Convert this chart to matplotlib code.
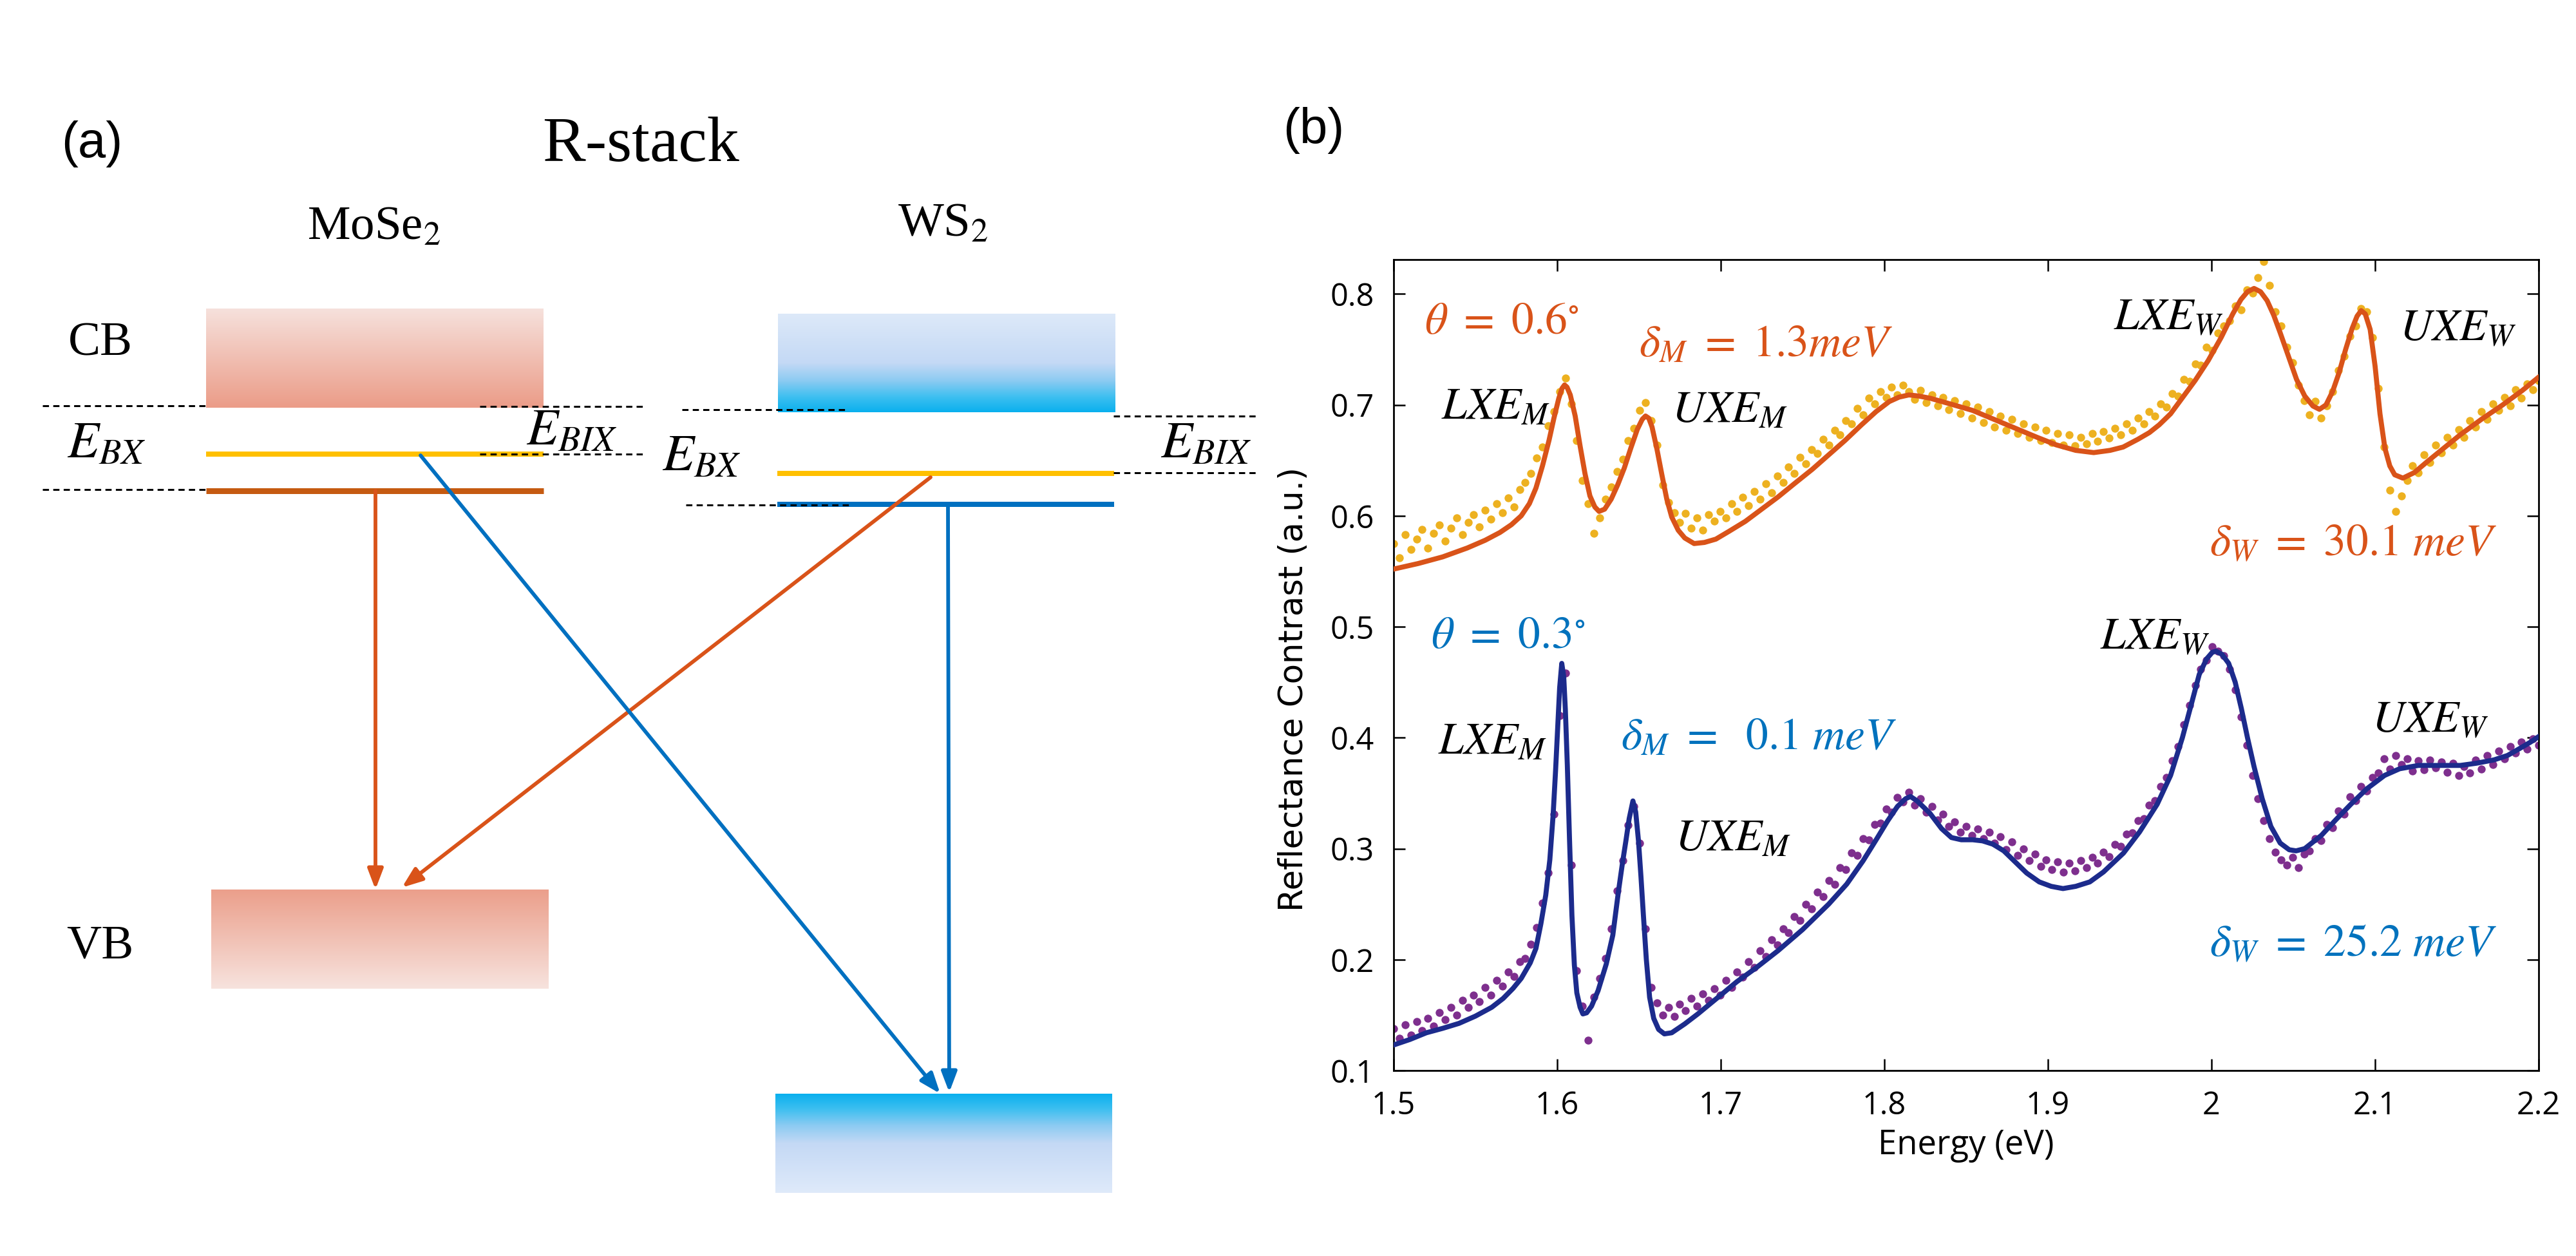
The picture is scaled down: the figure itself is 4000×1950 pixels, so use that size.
import numpy as np
import matplotlib
matplotlib.use('Agg')
import matplotlib.pyplot as plt
from matplotlib.patches import FancyArrowPatch
from matplotlib.colors import to_rgb

plt.rcParams['mathtext.fontset'] = 'stix'
plt.rcParams['font.family'] = ['Open Sans', 'DejaVu Sans']

# ---------------- panel (b) data ----------------
energy_grid = np.linspace(1.5, 2.2, 201)

top_data = [
    .575, .562, .583, .570, .579, .588, .571, .584, .592, .577,
    .589, .598, .583, .594, .601, .590, .605, .597, .611, .603,
    .616, .608, .624, .630, .638, .652, .662, .681, .694, .712,
    .724, .701, .668, .632, .611, .584, .598, .615, .626, .640,
    .651, .668, .679, .695, .702, .686, .664, .628, .612, .603,
    .594, .602, .589, .598, .587, .601, .595, .604, .598, .611,
    .604, .617, .609, .622, .615, .629, .621, .636, .630, .644,
    .638, .653, .647, .660, .656, .669, .664, .677, .673, .686,
    .683, .697, .691, .706, .701, .712, .707, .716, .709, .718,
    .712, .705, .713, .702, .709, .699, .707, .696, .704, .692,
    .701, .688, .698, .684, .694, .680, .690, .677, .687, .674,
    .683, .671, .680, .668, .677, .666, .674, .664, .673, .663,
    .671, .665, .674, .667, .676, .670, .679, .673, .683, .677,
    .688, .683, .694, .690, .701, .698, .710, .708, .723, .721,
    .737, .736, .752, .749, .765, .771, .776, .789, .786, .804,
    .801, .815, .829, .808, .784, .771, .752, .738, .718, .704,
    .691, .703, .688, .699, .712, .731, .744, .762, .771, .787,
    .784, .761, .715, .662, .623, .604, .618, .632, .645, .639,
    .655, .648, .664, .657, .671, .664, .678, .671, .686, .680,
    .694, .687, .701, .695, .707, .699, .714, .706, .719, .714,
    .722]

bot_data = [
    .138, .129, .141, .132, .144, .136, .147, .140, .152, .146,
    .157, .150, .163, .157, .168, .162, .175, .168, .181, .176,
    .189, .185, .198, .201, .214, .229, .251, .278, .331, .420,
    .458, .285, .190, .158, .127, .166, .183, .201, .228, .262,
    .289, .321, .338, .305, .228, .175, .161, .150, .157, .149,
    .160, .154, .165, .158, .169, .163, .174, .168, .181, .175,
    .189, .184, .198, .193, .208, .203, .218, .213, .228, .224,
    .239, .235, .250, .246, .261, .257, .271, .268, .283, .281,
    .296, .294, .309, .308, .322, .323, .336, .333, .346, .342,
    .351, .339, .345, .333, .338, .326, .331, .320, .324, .315,
    .320, .312, .318, .309, .315, .305, .311, .299, .306, .294,
    .300, .289, .295, .284, .290, .281, .288, .279, .287, .280,
    .289, .283, .292, .287, .297, .293, .304, .302, .313, .314,
    .325, .327, .339, .343, .356, .364, .379, .392, .412, .429,
    .447, .462, .470, .482, .478, .474, .462, .443, .419, .393,
    .366, .345, .325, .309, .297, .290, .285, .292, .283, .295,
    .298, .309, .307, .322, .319, .334, .331, .347, .343, .356,
    .352, .364, .368, .381, .372, .384, .376, .381, .370, .379,
    .371, .380, .373, .378, .369, .377, .366, .374, .368, .380,
    .372, .384, .376, .388, .381, .392, .386, .396, .390, .399,
    .393]

top_fit = [
    (1.500, .552), (1.515, .557), (1.530, .563), (1.545, .571), (1.556, .578),
    (1.565, .585), (1.572, .592), (1.578, .600), (1.583, .611), (1.587, .625),
    (1.591, .645), (1.595, .668), (1.598, .688), (1.601, .706), (1.603, .715),
    (1.6045, .718), (1.606, .716), (1.608, .709), (1.611, .690), (1.614, .663),
    (1.617, .638), (1.620, .618), (1.623, .608), (1.6256, .604), (1.629, .606),
    (1.633, .615), (1.637, .628), (1.641, .643), (1.645, .661), (1.649, .678),
    (1.652, .687), (1.654, .690), (1.656, .688), (1.658, .680), (1.661, .660),
    (1.664, .637), (1.667, .615), (1.670, .599), (1.674, .587), (1.678, .580),
    (1.6837, .575), (1.690, .576), (1.697, .579), (1.705, .586), (1.715, .595),
    (1.725, .606), (1.735, .617), (1.745, .629), (1.756, .642), (1.766, .655),
    (1.776, .668), (1.786, .682), (1.795, .694), (1.803, .703), (1.809, .707),
    (1.815, .709), (1.821, .708), (1.828, .706), (1.840, .701), (1.854, .695),
    (1.867, .687), (1.880, .679), (1.893, .671), (1.905, .664), (1.917, .659),
    (1.928, .657), (1.938, .659), (1.946, .662), (1.955, .669), (1.962, .675),
    (1.968, .682), (1.975, .692), (1.982, .706), (1.990, .722), (1.998, .740),
    (2.006, .761), (2.013, .782), (2.018, .795), (2.022, .802), (2.026, .805),
    (2.030, .802), (2.034, .794), (2.038, .781), (2.042, .765), (2.047, .744),
    (2.052, .723), (2.057, .708), (2.062, .699), (2.066, .696), (2.070, .700),
    (2.074, .712), (2.078, .729), (2.082, .750), (2.086, .769), (2.089, .780),
    (2.0915, .785), (2.094, .782), (2.097, .768), (2.100, .735), (2.103, .692),
    (2.106, .661), (2.109, .645), (2.112, .637), (2.117, .634), (2.124, .639),
    (2.132, .649), (2.142, .661), (2.152, .673), (2.165, .687), (2.178, .700),
    (2.190, .713), (2.200, .725)]

bot_fit = [
    (1.500, .123), (1.510, .128), (1.520, .134), (1.530, .138), (1.540, .1425),
    (1.550, .149), (1.560, .157), (1.567, .165), (1.573, .174), (1.578, .183),
    (1.5835, .197), (1.587, .210), (1.590, .232), (1.593, .258), (1.5955, .290),
    (1.5975, .330), (1.599, .370), (1.6005, .415), (1.6015, .445), (1.6028, .467),
    (1.604, .455), (1.605, .425), (1.6062, .375), (1.6075, .310), (1.609, .240),
    (1.6105, .195), (1.612, .170), (1.614, .157), (1.6157, .151), (1.618, .152),
    (1.621, .158), (1.625, .172), (1.630, .196), (1.634, .222), (1.6375, .262),
    (1.640, .288), (1.642, .307), (1.644, .327), (1.6463, .343), (1.648, .333),
    (1.6497, .307), (1.6512, .275), (1.6527, .240), (1.6545, .200), (1.6565, .166),
    (1.659, .147), (1.662, .137), (1.6655, .133), (1.670, .134), (1.678, .142),
    (1.686, .151), (1.6934, .160), (1.700, .168), (1.7098, .180), (1.722, .193),
    (1.735, .208), (1.750, .227), (1.766, .250), (1.777, .268), (1.787, .289),
    (1.795, .308), (1.802, .325), (1.808, .338), (1.813, .345), (1.816, .347),
    (1.820, .343), (1.8278, .332), (1.835, .318), (1.841, .310), (1.847, .308),
    (1.854, .308), (1.860, .307), (1.8664, .304), (1.873, .298), (1.8793, .289),
    (1.887, .278), (1.8947, .270), (1.902, .266), (1.9092, .264), (1.917, .266),
    (1.9256, .270), (1.934, .279), (1.9462, .296), (1.956, .315), (1.9668, .340),
    (1.975, .366), (1.9822, .400), (1.988, .432), (1.9925, .457), (1.997, .471),
    (2.0005, .477), (2.0028, .478), (2.0065, .475), (2.0105, .467), (2.0145, .450),
    (2.0183, .426), (2.022, .400), (2.026, .374), (2.031, .345), (2.0363, .320),
    (2.042, .305), (2.0475, .299), (2.0517, .298), (2.057, .300), (2.0672, .312),
    (2.076, .326), (2.0852, .340), (2.095, .354), (2.1058, .366), (2.115, .372),
    (2.1264, .375), (2.140, .375), (2.1521, .375), (2.162, .377), (2.1727, .380),
    (2.181, .384), (2.1881, .390), (2.195, .396), (2.200, .401)]

x_ticks = [1.5, 1.6, 1.7, 1.8, 1.9, 2.0, 2.1, 2.2]
x_ticklabels = ['1.5', '1.6', '1.7', '1.8', '1.9', '2', '2.1', '2.2']
y_ticks = [0.1, 0.2, 0.3, 0.4, 0.5, 0.6, 0.7, 0.8]
y_ticklabels = ['0.1', '0.2', '0.3', '0.4', '0.5', '0.6', '0.7', '0.8']

# annotations: (text, x, y, colour, size)
annotations_b = [
    (r'$\theta\ =\ 0.6^{\circ}$', 1.519, 0.764, '#d95319', 25),
    (r'$\delta_M\ =\ 1.3meV$', 1.650, 0.744, '#d95319', 25),
    (r'$LXE_M$', 1.529, 0.688, 'black', 25),
    (r'$UXE_M$', 1.670, 0.685, 'black', 25),
    (r'$LXE_W$', 1.940, 0.769, 'black', 25),
    (r'$UXE_W$', 2.115, 0.759, 'black', 25),
    (r'$\delta_W\ =\ 30.1\ meV$', 1.999, 0.565, '#d95319', 25),
    (r'$\theta\ =\ 0.3^{\circ}$', 1.523, 0.481, '#0072bd', 25),
    (r'$LXE_M$', 1.527, 0.386, 'black', 25),
    (r'$\delta_M\ =\ \ 0.1\ meV$', 1.639, 0.390, '#0072bd', 25),
    (r'$UXE_M$', 1.672, 0.299, 'black', 25),
    (r'$LXE_W$', 1.932, 0.481, 'black', 25),
    (r'$UXE_W$', 2.098, 0.406, 'black', 25),
    (r'$\delta_W\ =\ 25.2\ meV$', 1.999, 0.204, '#0072bd', 25),
]

# ---------------- figure ----------------
fig = plt.figure(figsize=(20, 9.75), dpi=200)
bg = fig.add_axes([0, 0, 1, 1])
bg.axis('off')


def grad_img(stops, n=256):
    pos = [p for p, _ in stops]
    cols = np.array([to_rgb(c) for _, c in stops])
    t = np.linspace(0, 1, n)
    img = np.stack([np.interp(t, pos, cols[:, k]) for k in range(3)], axis=-1)
    return img[:, None, :]


def box(x0, x1, ytop, ybot, stops):
    bg.imshow(grad_img(stops), extent=(x0, x1, ybot, ytop), aspect='auto',
              interpolation='bilinear', zorder=1)


box(320, 844, 479, 633, [(0, '#f6e1dc'), (1, '#eb9c88')])
box(328, 852, 1381, 1535, [(0, '#eb9f8b'), (1, '#f7e3de')])
box(1208, 1732, 487, 640, [(0, '#dde9f9'), (0.5, '#c4d9f5'), (0.68, '#8ccbf2'),
                            (0.85, '#3cbff0'), (1, '#0ab0ee')])
box(1204, 1727, 1698, 1852, [(0, '#0ab0ee'), (0.15, '#3cbff0'), (0.32, '#8ccbf2'),
                              (0.5, '#c4d9f5'), (1, '#dfeafa')])

# level lines
px = 72 / 200.0
bg.plot([320, 844], [705, 705], color='#ffc000', lw=8 * px, solid_capstyle='butt', zorder=2)
bg.plot([320, 844], [762, 762], color='#c55a11', lw=9 * px, solid_capstyle='butt', zorder=2)
bg.plot([1207, 1730], [735, 735], color='#ffc000', lw=8 * px, solid_capstyle='butt', zorder=2)
bg.plot([1207, 1730], [783, 783], color='#0070c0', lw=8 * px, solid_capstyle='butt', zorder=2)

# dashed guides
dashes = [((66, 320), 630), ((66, 320), 760), ((745, 999), 631), ((745, 999), 705),
          ((1059, 1315), 636), ((1065, 1318), 784), ((1729, 1952), 646), ((1729, 1952), 734)]
for (xa, xb), yy in dashes:
    bg.plot([xa, xb], [yy, yy], color='black', lw=3 * px, linestyle=(0, (3.2, 2.2)), zorder=4)

# arrows
arrows = [((583, 762), (583, 1381), '#d95319'),
          ((1445, 741), (624, 1378), '#d95319'),
          ((653, 707), (1460, 1698), '#0070c0'),
          ((1472, 783), (1474, 1696), '#0070c0')]
for p0, p1, c in arrows:
    bg.add_patch(FancyArrowPatch(p0, p1, arrowstyle='-|>,head_length=0.95,head_width=0.36',
                                 mutation_scale=10, color=c, lw=2.1, shrinkA=0, shrinkB=0,
                                 zorder=3))

bg.set_xlim(0, 4000)
bg.set_ylim(1950, 0)

serif = ['Liberation Serif', 'DejaVu Serif']
bg.text(95, 244, '(a)', fontsize=28, family=['Liberation Sans', 'DejaVu Sans'], va='baseline')
bg.text(842, 250, 'R-stack', fontsize=36, family=serif, va='baseline')
bg.text(477, 371, r'MoSe$_2$', fontsize=27, family=serif, va='baseline')
bg.text(1394, 366, r'WS$_2$', fontsize=27, family=serif, va='baseline')
bg.text(106, 552, 'CB', fontsize=27, family=serif, va='baseline')
bg.text(103, 1487, 'VB', fontsize=27, family=serif, va='baseline')
bg.text(104, 710, r'$E_{BX}$', fontsize=29, va='baseline')
bg.text(817, 690, r'$E_{BIX}$', fontsize=29, va='baseline')
bg.text(1028, 730, r'$E_{BX}$', fontsize=29, va='baseline')
bg.text(1802, 710, r'$E_{BIX}$', fontsize=29, va='baseline')

bg.text(1992, 223, '(b)', fontsize=28, family=['Liberation Sans', 'DejaVu Sans'], va='baseline')

# ---------------- panel (b) axes ----------------
ax = fig.add_axes([2164 / 4000, (1950 - 1662) / 1950, (3942 - 2164) / 4000, (1662 - 403) / 1950])
ax.scatter(energy_grid, top_data, s=20, color='#edb120', linewidths=0, zorder=2)
ax.scatter(energy_grid, bot_data, s=20, color='#7e2f8e', linewidths=0, zorder=2)
tE, tR = zip(*top_fit)
bE, bR = zip(*bot_fit)
ax.plot(tE, tR, color='#d95319', lw=2.8, zorder=3, solid_joinstyle='round')
ax.plot(bE, bR, color='#1c2b8c', lw=2.8, zorder=3, solid_joinstyle='round')
ax.set_xlim(1.5, 2.2)
ax.set_ylim(0.1, 0.831)
ax.set_xticks(x_ticks)
ax.set_xticklabels(x_ticklabels)
ax.set_yticks(y_ticks)
ax.set_yticklabels(y_ticklabels)
ax.tick_params(direction='in', length=6.5, width=0.9, top=True, right=True, labelsize=17.5)
ax.tick_params(axis='x', pad=11)
ax.tick_params(axis='y', pad=11)
for sp in ax.spines.values():
    sp.set_linewidth(1.0)

for txt, xx, yy, col, fs in annotations_b:
    ax.text(xx, yy, txt, color=col, fontsize=fs, ha='left', va='baseline', zorder=5)

fig.text(2009 / 4000, 1 - 1070 / 1950, 'Reflectance Contrast (a.u.)', rotation=90,
         ha='center', va='center', fontsize=18.5, family=['DejaVu Sans'])
fig.text(3053 / 4000, 1 - 1778 / 1950, 'Energy (eV)', ha='center', va='center', fontsize=19)

fig.savefig('out.png', dpi=200, facecolor='white')
